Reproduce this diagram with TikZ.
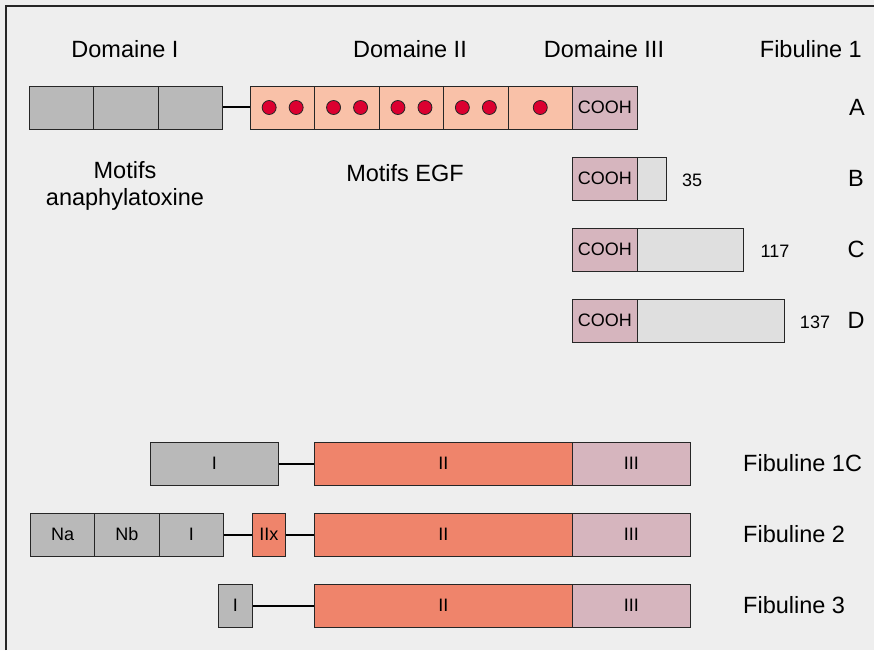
\documentclass[tikz,border=0pt]{standalone}
\usepackage{fontspec}
\setmainfont{Liberation Sans}
\definecolor{bgc}{HTML}{EEEEEE}
\definecolor{grayc}{HTML}{B9B9B9}
\definecolor{peachc}{HTML}{F9C1A8}
\definecolor{dotc}{HTML}{DC0030}
\definecolor{mauvec}{HTML}{D6B5BE}
\definecolor{lightc}{HTML}{DFDFDF}
\definecolor{salmonc}{HTML}{EF846B}
\tikzset{
  cell/.style={draw=black!85, line width=0.9pt, inner sep=0pt, minimum height=43pt, anchor=west, font=\fontsize{18}{20}\selectfont},
  gbox/.style={cell, fill=grayc},
  pbox/.style={cell, fill=peachc},
  mbox/.style={cell, fill=mauvec},
  lbox/.style={cell, fill=lightc},
  sbox/.style={cell, fill=salmonc},
  link/.style={line width=2pt, black},
  dotn/.style={circle, draw=black!85, line width=0.8pt, fill=dotc, minimum size=14pt, inner sep=0pt},
  big/.style={font=\fontsize{23.5}{27}\selectfont, inner sep=0pt},
  small/.style={font=\fontsize{18}{20}\selectfont, inner sep=0pt},
}
\begin{document}
\begin{tikzpicture}[x=1pt,y=-1pt]
\fill[bgc] (0,0) rectangle (874,650);
\useasboundingbox (0,0) rectangle (874,650);
\coordinate (fb) at (6,650);
\coordinate (fc) at (6,6);
\coordinate (fr) at (874,6);
\draw[line width=1.3pt, black!85] (fb) -- (fc) -- (fr);

% headings
\node[big] (d1) at (125,49) {Domaine I};
\node[big] (d2) at (410,49) {Domaine II};
\node[big] (d3) at (604,49) {Domaine III};
\node[big, anchor=east] (f1) at (862,49) {Fibuline 1};
\node[big, align=center] (ma) at (125,186) {Motifs\\anaphylatoxine};
\node[big] (me) at (405,173) {Motifs EGF};

% row A
\node[gbox, minimum width=64.33pt] (a1) at (29,107.5) {};
\node[gbox, minimum width=64.33pt] (a2) at (93.33,107.5) {};
\node[gbox, minimum width=64.33pt] (a3) at (157.67,107.5) {};
\node[pbox, minimum width=64.4pt] (p1) at (250,107.5) {};
\node[pbox, minimum width=64.4pt] (p2) at (314.4,107.5) {};
\node[pbox, minimum width=64.4pt] (p3) at (378.8,107.5) {};
\node[pbox, minimum width=64.4pt] (p4) at (443.2,107.5) {};
\node[pbox, minimum width=64.4pt] (p5) at (507.6,107.5) {};
\node[mbox, minimum width=65pt] (ca) at (572,107.5) {COOH};
\draw[link] (a3.east) -- (p1.west);
\foreach \c in {p1,p2,p3,p4}{
  \node[dotn] at ([xshift=-13.5pt]\c.center) {};
  \node[dotn] at ([xshift=13.5pt]\c.center) {};
}
\node[dotn] (p5d) at (p5.center) {};
\node[big] (la) at (857,107.5) {A};

% row B
\node[mbox, minimum width=65pt] (cb) at (572,178.5) {COOH};
\node[lbox, minimum width=29pt] (gb) at (637,178.5) {};
\node[small] (nb) at (692,180) {35};
\node[big] (lb) at (856,178.5) {B};

% row C
\node[mbox, minimum width=65pt] (cc) at (572,249.5) {COOH};
\node[lbox, minimum width=106pt] (gc) at (637,249.5) {};
\node[small] (nc) at (775,251) {117};
\node[big] (lc) at (856,249.5) {C};

% row D
\node[mbox, minimum width=65pt] (cd) at (572,320.5) {COOH};
\node[lbox, minimum width=147pt] (gd) at (637,320.5) {};
\node[small] (nd) at (815,322) {137};
\node[big] (ld) at (856,320.5) {D};

% Fibuline 1C
\node[gbox, minimum width=128pt] (r1i) at (150,463.5) {I};
\node[sbox, minimum width=258pt] (r1ii) at (314,463.5) {II};
\node[mbox, minimum width=118pt] (r1iii) at (572,463.5) {III};
\draw[link] (r1i.east) -- (r1ii.west);
\node[big, anchor=west] (l1c) at (743,463.5) {Fibuline 1C};

% Fibuline 2
\node[gbox, minimum width=64.33pt] (r2a) at (30,534.5) {Na};
\node[gbox, minimum width=64.33pt] (r2b) at (94.33,534.5) {Nb};
\node[gbox, minimum width=64.33pt] (r2i) at (158.67,534.5) {I};
\node[sbox, minimum width=33pt] (r2x) at (252,534.5) {IIx};
\node[sbox, minimum width=258pt] (r2ii) at (314,534.5) {II};
\node[mbox, minimum width=118pt] (r2iii) at (572,534.5) {III};
\draw[link] (r2i.east) -- (r2x.west);
\draw[link] (r2x.east) -- (r2ii.west);
\node[big, anchor=west] (l2) at (743,534.5) {Fibuline 2};

% Fibuline 3
\node[gbox, minimum width=34pt] (r3i) at (218,605.5) {I};
\node[sbox, minimum width=258pt] (r3ii) at (314,605.5) {II};
\node[mbox, minimum width=118pt] (r3iii) at (572,605.5) {III};
\draw[link] (r3i.east) -- (r3ii.west);
\node[big, anchor=west] (l3) at (743,605.5) {Fibuline 3};
\end{tikzpicture}
\end{document}
